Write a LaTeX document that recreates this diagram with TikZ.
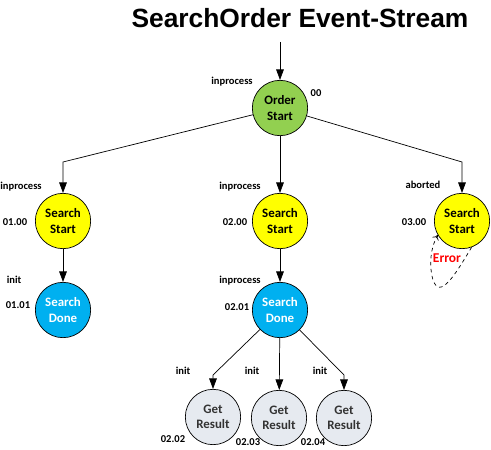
\documentclass[tikz,border=0pt]{standalone}
\usepackage{fontspec}
\usetikzlibrary{arrows.meta}
\setmainfont{Carlito}
\newfontfamily\titlefont{Liberation Sans}
\definecolor{startgreen}{RGB}{146,208,80}
\definecolor{searchyellow}{RGB}{255,255,0}
\definecolor{doneblue}{RGB}{0,176,240}
\definecolor{resultgray}{RGB}{230,234,240}
\definecolor{errorred}{RGB}{255,0,0}

\begin{document}
\begin{tikzpicture}
[x=0.03cm,y=-0.03cm,
  statedecorate/.style={shape=circle,draw,semithick,minimum size=1.66cm,inner sep=0pt,align=center,%
    font=\bfseries\fontsize{11}{13}\selectfont},
  orderstate/.style={statedecorate,fill=startgreen},
  searchstate/.style={statedecorate,fill=searchyellow},
  donestate/.style={statedecorate,fill=doneblue,text=white},
  resultstate/.style={statedecorate,fill=resultgray,text=black!80},
  arrowline/.style={-{Triangle[length=9pt,width=6.5pt]},semithick},
  errorline/.style={-{To[length=4pt,width=6pt]},semithick,dashed},
  tag/.style={font=\bfseries\fontsize{9}{10}\selectfont}]
\useasboundingbox (0,0) rectangle (491,450);
% title
\node (title) at (300,18) {\titlefont\bfseries\fontsize{22.5}{26}\selectfont SearchOrder Event-Stream};
% states
\coordinate (in) at (280,42);
\node (os) at (280,108) [orderstate] {Order\\Start};
\node (ss1) at (63,221) [searchstate] {Search\\Start};
\node (sd1) at (63,310) [donestate] {Search\\Done};
\node (ss2) at (280,221) [searchstate] {Search\\Start};
\node (sd2) at (280,310) [donestate] {Search\\Done};
\node (ss3) at (462,221) [searchstate] {Search\\Start};
\node (gr1) at (213,417) [resultstate] {Get\\Result};
\node (gr2) at (279,418) [resultstate] {Get\\Result};
\node (gr3) at (344,418) [resultstate] {Get\\Result};
% bends
\coordinate (b1) at (63,162);
\coordinate (b3) at (462,162);
\coordinate (b4) at (213,375);
\coordinate (b6) at (344,375);
% status and version tags
\node (t0) at (232,82) [tag] {inprocess};
\node (v0) at (316,93) [tag] {00};
\node (t1) at (21,187) [tag] {inprocess};
\node (v1) at (15,222) [tag] {01.00};
\node (t2) at (14,280) [tag] {init};
\node (v2) at (18,305) [tag] {01.01};
\node (t3) at (240,187) [tag] {inprocess};
\node (v3) at (235,222) [tag] {02.00};
\node (t4) at (240,281) [tag] {inprocess};
\node (v4) at (237,307) [tag] {02.01};
\node (t5) at (423,185) [tag] {aborted};
\node (v5) at (414,222) [tag] {03.00};
\node (t6) at (183,371) [tag] {init};
\node (t7) at (252,371) [tag] {init};
\node (t8) at (320,371) [tag] {init};
\node (v6) at (173,439) [tag] {02.02};
\node (v7) at (248,442) [tag] {02.03};
\node (v8) at (313,442) [tag] {02.04};
% edges
\draw[arrowline] (in) -- (os);
\draw[arrowline] (os) -- (b1) -- (ss1);
\draw[arrowline] (os) -- (ss2);
\draw[arrowline] (os) -- (b3) -- (ss3);
\draw[arrowline] (ss1) -- (sd1);
\draw[arrowline] (ss2) -- (sd2);
\draw[arrowline] (sd2) -- (b4) -- (gr1);
\draw[arrowline] (sd2) -- (gr2);
\draw[arrowline] (sd2) -- (b6) -- (gr3);
% error loop
\draw[errorline] (ss3.-70) .. controls (455,275) and (440,300) .. (433,280) .. controls (428,262) and (432,245) .. (ss3.-150);
\node (err) at (447,258) [font=\bfseries\fontsize{11.5}{13}\selectfont,text=errorred] {Error};
\end{tikzpicture}
\end{document}
